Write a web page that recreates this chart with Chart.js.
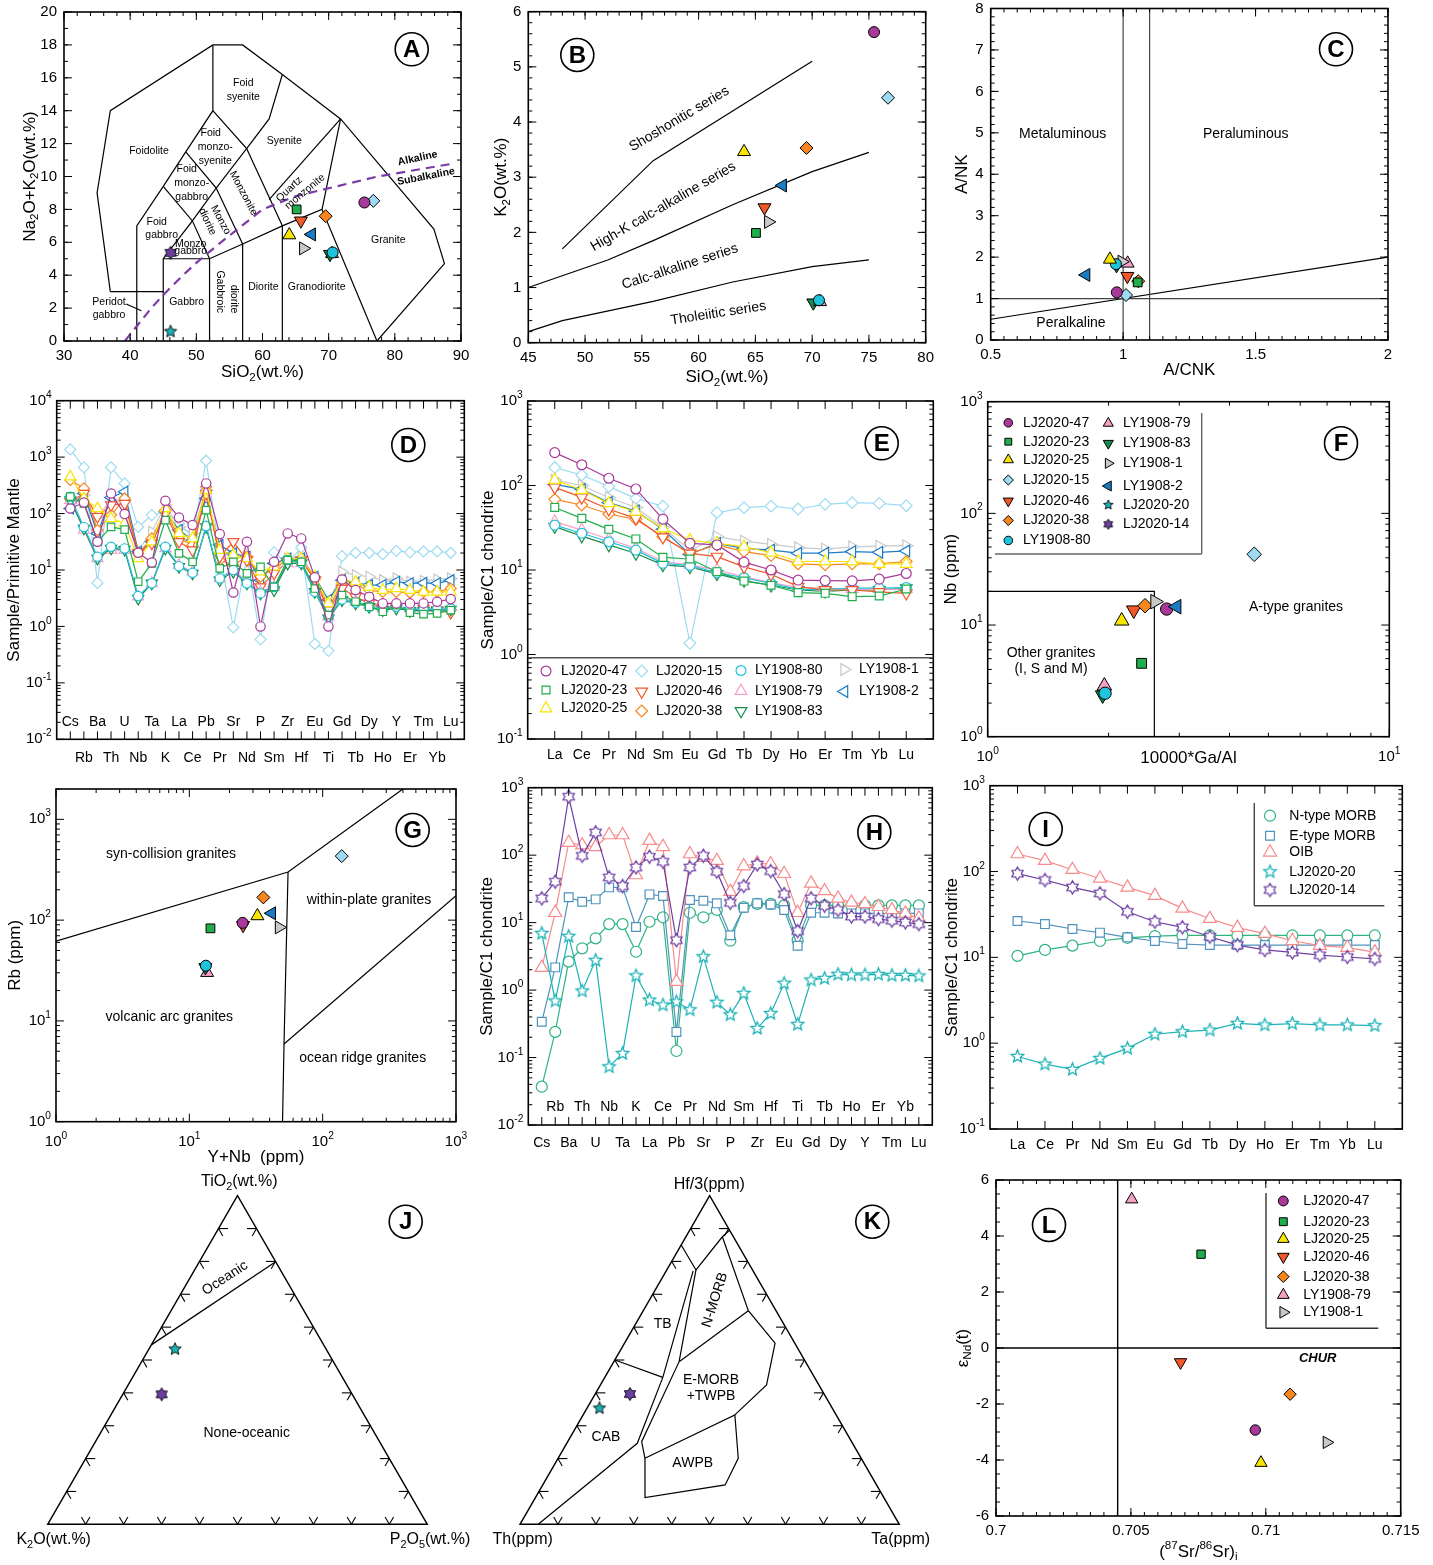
<!DOCTYPE html>
<html lang="en">
<head>
<meta charset="UTF-8">
<title>Geochemical diagrams A-L</title>
<script src="https://cdn.jsdelivr.net/npm/chart.js@4"></script>
<style>
  body { margin: 0; background: #fff; }
  #page { position: relative; width: 1433px; height: 1565px; overflow: hidden; }
  #page canvas { position: absolute; }
</style>
</head>
<body>
<div id="page"></div>
<script>
// ---------- element lists (tick labels) ----------
const spiderEls = ['Cs','Rb','Ba','Th','U','Nb','Ta','K','La','Ce','Pb','Pr','Sr','Nd','P','Sm','Zr','Hf','Eu','Ti','Gd','Tb','Dy','Ho','Y','Er','Tm','Yb','Lu'];
const reeEls = ['La','Ce','Pr','Nd','Sm','Eu','Gd','Tb','Dy','Ho','Er','Tm','Yb','Lu'];

// ---------- A: TAS ----------
const aSamples = ['LJ2020-47','LJ2020-15','LJ2020-23','LJ2020-46','LJ2020-38','LJ2020-25','LY1908-2','LY1908-1','LY1908-80','LY1908-83','LY1908-79','LJ2020-14','LJ2020-20'];
const aSiO2 = [75.4, 76.75, 65.16, 65.8, 69.55, 64.05, 67.43, 66.17, 70.6, 70.2, 70.5, 46.1, 46.1];
const aAlk = [8.42, 8.52, 8.0, 7.31, 7.59, 6.44, 6.48, 5.63, 5.38, 5.28, 5.3, 5.36, 0.57];
const tasLines = [
  [[37,3],[35,9],[37,14],[52.5,18],[57,18],[63,16.2],[71.8,13.5],[85.9,6.8],[87.5,4.7],[77.3,0]],
  [[37,3],[45,3]],
  [[41,0],[41,7],[45,9.4],[48.4,11.5],[52.5,14],[52.5,18]],
  [[45,0],[45,5],[49.4,7.3],[45,9.4]],
  [[48.4,11.5],[53,9.3],[49.4,7.3],[52,5]],
  [[45,5],[52,5],[57,5.9],[63,7],[69,8],[71.8,13.5]],
  [[52,0],[52,5]], [[57,0],[57,5.9]], [[63,0],[63,7]],
  [[53,9.3],[57.6,11.7],[52.5,14]],
  [[53,9.3],[57,5.9]],
  [[57.6,11.7],[63,7]],
  [[57.6,11.7],[61,13.5],[63,16.2]],
  [[61,8.6],[71.8,13.5]],
  [[69,8],[77.3,0]],
  [[39.4,2.25],[41.7,1.84]]
];
const tasAlkalineDivide = [[39.2,0],[40,0.4],[43.2,2],[45,2.8],[48,4],[50,4.75],[53.7,6],[55,6.4],[60,8],[65,8.8],[77.4,10],[88.3,10.75]];

// ---------- B: SiO2-K2O ----------
const bSamples = ['LJ2020-47','LJ2020-15','LJ2020-25','LJ2020-38','LY1908-2','LJ2020-46','LY1908-1','LJ2020-23','LY1908-80','LY1908-79','LY1908-83'];
const bSiO2 = [75.45, 76.68, 64.0, 69.5, 67.4, 65.8, 66.14, 65.05, 70.6, 70.7, 70.1];
const bK2O = [5.63, 4.44, 3.46, 3.53, 2.85, 2.45, 2.19, 1.99, 0.77, 0.74, 0.725];
const bSeriesLines = [
  [[48,1.7],[56,3.3],[70,5.1]],
  [[45,1.0],[52,1.5],[56,1.85],[63,2.5],[70,3.1],[75,3.45]],
  [[45,0.2],[48,0.4],[56,0.75],[63,1.1],[70,1.38],[75,1.5]]
];

// ---------- C: A/CNK - A/NK ----------
const cSamples = ['LJ2020-25','LY1908-80','LY1908-1','LY1908-79','LY1908-83','LY1908-2','LJ2020-46','LJ2020-23','LJ2020-38','LJ2020-47','LJ2020-15'];
const cAcnk = [0.950, 0.973, 0.995, 1.017, 0.975, 0.86, 1.016, 1.055, 1.057, 0.976, 1.011];
const cAnk = [1.945, 1.83, 1.89, 1.85, 1.80, 1.57, 1.54, 1.39, 1.42, 1.15, 1.085];
const cGreyLines = [[[1,0],[1,8]], [[1.1,0],[1.1,8]], [[0.5,1],[2,1]]];
const cDiagonal = [[0.5,0.5],[2,2]];

// ---------- D: primitive-mantle spidergram ----------
const pmLJ2020_47 = [123,157,31.7,227,98,20.2,13.6,169,85,62.5,342,43.3,4.0,31.7,1.0,14,44.5,36.3,7.4,1.0,6.8,4.4,3.36,2.56,2.56,2.56,2.56,2.74,3.05];
const pmLJ2020_23 = [199,151,31.7,58,52,6.2,13.1,76.6,19.7,14,115,10.7,14,8.7,11.4,5.0,15,14,4.7,1.59,3.6,2.74,2.23,1.82,2.39,1.75,1.65,1.7,1.95];
const pmLJ2020_25 = [449,185,123,82,67,16,31.7,123,44.5,36.3,260,22.5,18.4,16,9.3,11.4,16,16,7.6,2.56,6.6,6.2,5.0,4.4,4.7,4.4,4.1,4.1,4.1];
const pmLJ2020_15 = [1368,657,5.9,657,342,58,94,108,67,38.8,863,19.7,0.96,17.2,0.59,20.5,13.1,25,0.49,0.37,17.6,20.2,20.2,19.1,21.9,20.5,21.3,21.3,20.2];
const pmLJ2020_46 = [162,227,88,141,150,20.2,29.6,100,31.7,22.5,227,17.2,31.7,15,5.0,8.7,14,15,6.6,1.95,4.7,3.36,2.56,2.23,2.23,1.9,2.08,1.95,1.75];
const pmLJ2020_38 = [392,279,51,94,185,19.7,36.3,115,36.3,27.6,298,15,12.2,17.2,7.6,10.7,15,15,7.1,2.08,5.9,5.4,4.4,4.1,4.1,3.95,4.1,4.1,4.7];
const pmLY1908_80 = [199,58,17.2,25.8,24.1,3.45,5.8,25.8,11.7,8.9,60,7.1,10,5.8,3.85,5.0,15,13.4,4.1,1.48,3.0,2.63,2.23,2.0,2.23,2.0,2.0,2.0,2.08];
const pmLY1908_79 = [173,51,16,22.5,22.5,3.36,5.8,24.1,12.2,9.3,58,7.1,10,6.2,4.1,5.0,13.1,13.1,4.4,1.48,3.14,2.74,2.39,2.08,2.29,2.08,2.08,2.08,2.17];
const pmLY1908_83 = [173,54.5,16,24.1,23,3.13,5.8,24.1,11.4,8.7,58,6.6,9.3,5.8,3.85,4.4,13.1,13.1,4.1,1.39,2.93,2.56,2.23,1.95,2.08,1.9,1.9,1.9,2.0];
const pmLY1908_1 = [151,212,88,173,173,22.5,47.6,141,58,44.5,260,19.7,17.2,17.2,7.6,12.2,16,17.2,7.6,2.56,9.3,8.1,7.6,6.6,7.1,6.2,6.4,6.8,7.1];
const pmLY1908_2 = [123,227,44.5,193,243,21,31.7,108,51,33.9,185,27.6,19.7,17.2,6.6,13.1,16,16,7.6,2.93,6.6,5.9,5.4,5.4,6.2,5.8,5.9,5.8,6.6];

// ---------- E: chondrite REE ----------
const reeLJ2020_47 = [245,176,122,91,40,20.7,19.8,12.4,10,7.6,7.5,7.45,7.8,9.1];
const reeLJ2020_23 = [55,40.8,30.3,23.3,14.1,13.5,9.55,7.4,6.6,5.4,5.3,4.83,4.92,5.96];
const reeLJ2020_25 = [116,88.5,61.5,49,31,22.6,20.7,18.9,16,12.6,12.6,12.6,11.8,11.8];
const reeLJ2020_15 = [163,133,97,70.5,57,1.36,47.7,54.7,57,52.7,59.8,62.7,61.5,57.7];
const reeLJ2020_46 = [95,72.4,52.3,40.8,24.4,15.7,14.4,10.9,8.9,6.35,5.8,5.8,5.5,5.3];
const reeLJ2020_38 = [68.6,58.8,46,39.8,24.8,15.7,19.8,16.5,14.8,11.8,11.5,11.8,11.8,12.6];
const reeLY1908_80 = [34,27.2,21.6,17.2,12,11.3,9.3,8.1,6.95,5.9,5.9,6.1,6.1,6.2];
const reeLY1908_79 = [37.3,29.7,23.1,18,12.6,11.5,10,8.3,7.1,6.2,6.1,5.95,5.95,5.95];
const reeLY1908_83 = [32.6,25.2,19.8,15.7,11.5,10.9,9.0,7.5,6.6,5.8,5.6,5.8,5.8,6.1];
const reeLY1908_1 = [116,100,72,55,32,17,24.8,22,20.1,18.4,17.7,18.8,19.2,19.4];
const reeLY1908_2 = [103,90,63,50,30.3,15.3,20.7,18,17.2,15.8,15.8,16.5,16.2,16.8];

// ---------- F: Ga/Al - Nb ----------
const fSamples = ['LJ2020-15','LY1908-2','LJ2020-47','LY1908-1','LJ2020-38','LJ2020-46','LJ2020-25','LJ2020-23','LY1908-80','LY1908-79','LY1908-83'];
const fGaAl = [4.61, 2.955, 2.79, 2.61, 2.465, 2.31, 2.156, 2.417, 1.96, 1.952, 1.933];
const fNb = [43, 14.6, 13.9, 16.2, 14.9, 13.6, 10.9, 4.54, 2.45, 2.85, 2.36];
const fBoundary = [[1,20],[2.6,20],[2.6,1]];

// ---------- G: Y+Nb - Rb ----------
const gSamples = ['LJ2020-15','LJ2020-38','LY1908-2','LJ2020-25','LJ2020-47','LJ2020-46','LY1908-1','LJ2020-23','LY1908-80','LY1908-83','LY1908-79'];
const gYNb = [139, 35.9, 41.5, 32.4, 25.1, 25.3, 47.1, 14.4, 13.3, 13.2, 13.6];
const gRb = [432, 168, 117, 110, 94, 89, 84.8, 82.9, 35.3, 34, 30.1];
const gLines = [
  [[1,62],[55,300],[400,2000]],
  [[55,300],[51.3,5.9],[50,1]],
  [[51.3,5.9],[1000,175]]
];

// ---------- H: spidergram, references + mafic samples ----------
const hOIB = [2.15,14.0,153,141,133,199,199,50.8,164,133,1.33,104,91.8,82.8,28.8,69,75.8,74,53,14,38.2,29.5,22.9,19.9,18.9,17.2,15.4,13.7,11.6];
const hEMORB = [0.34,2.17,23.7,20.4,22.1,33.3,33.3,8.6,26.2,24.8,0.24,21.6,21.1,19.3,6.5,16.6,19.3,18.6,15.4,4.55,14,14,13.7,13.7,13.7,13.7,13.7,13.7,13.7];
const hNMORB = [0.037,0.24,2.64,4.16,5.85,9.5,9.5,3.7,10.3,12.0,0.125,14,12,15.4,5.4,17,19,19,18,5.5,18,18,18,18,18,18,18,18,18];
const hLJ2020_14 = [22.9,40.5,736,98,218,46.9,34.9,65.9,94.9,80,5.5,65.9,98,56.9,19.7,34.9,73,58,26.5,7.5,22.9,17.8,15.4,12.3,12.3,11.3,10.7,10.1,9.5];
const hLJ2020_20 = [6.93,0.69,6.26,0.97,2.76,0.073,0.115,1.63,0.71,0.60,0.67,0.51,3.13,0.66,0.43,0.895,0.27,0.45,1.26,0.31,1.41,1.49,1.71,1.68,1.68,1.71,1.65,1.65,1.62];

// ---------- I: REE, references + mafic samples ----------
const iNMORB = [10.4,12.2,13.7,15.5,16.9,17.7,18,18,18,18,18,18,18,18];
const iEMORB = [26.5,24.4,21.4,19.4,17.1,15.5,14.3,13.9,13.9,13.9,13.9,13.9,13.9,13.9];
const iOIB = [160,134,105,83,65.4,52.3,37.2,28.2,22.2,18.9,15.6,13.7,13.0,11.5];
const iLJ2020_14 = [94.4,79.6,65.4,55.7,34,26,22.4,17.4,13.9,12.2,11.4,10.6,10.1,9.6];
const iLJ2020_20 = [0.70,0.57,0.495,0.665,0.87,1.27,1.36,1.42,1.70,1.63,1.69,1.63,1.63,1.60];

// ---------- J: TiO2-K2O-P2O5 ----------
const jSamples = ['LJ2020-20','LJ2020-14'];
const jTiO2 = [0.5325, 0.3955];
const jK2O = [0.398, 0.502];
const jP2O5 = [0.069, 0.1025];
const jOceanicLine = [[0.546,0.454,0],[0.799,0,0.201]];

// ---------- K: Hf/3-Th-Ta ----------
const kSamples = ['LJ2020-20','LJ2020-14'];
const kHf3 = [0.353, 0.3966];
const kTh = [0.614, 0.512];
const kTa = [0.033, 0.0917];
const kFieldLines = [
  [[0.85,0.15,0],[0.774,0.149,0.077],[0.875,0.029,0.096],[0.895,0,0.105]],
  [[0.875,0.029,0.096],[0.650,0.073,0.277],[0.551,0.052,0.397],[0.424,0.138,0.438],[0.333,0.267,0.400]],
  [[0.650,0.073,0.277],[0.495,0.333,0.172]],
  [[0.774,0.149,0.077],[0.495,0.333,0.172],[0.2515,0.5535,0.195],[0.2008,0.5702,0.229],[0.0811,0.6299,0.289],[0.1197,0.3993,0.481],[0.2008,0.3242,0.475],[0.333,0.267,0.400],[0.2008,0.5702,0.229]],
  [[0.771,0.158,0.071],[0.447,0.400,0.153],[0.2465,0.5675,0.186],[0,0.952,0.048]],
  [[0.5,0.5,0],[0.447,0.400,0.153]]
];

// ---------- L: Sr-Nd isotopes ----------
const lSamples = ['LY1908-79','LJ2020-23','LJ2020-46','LJ2020-38','LJ2020-47','LY1908-1','LJ2020-25'];
const lSr = [0.70503, 0.7076, 0.70684, 0.7109, 0.70961, 0.71226, 0.70982];
const lNd = [5.31, 3.35, -0.51, -1.65, -2.93, -3.37, -4.1];
const lBulkEarthSr = [[0.70451,-6],[0.70451,6]];
const lChur = [[0.7,0],[0.715,0]];

// ---------- symbols ----------
const sampleStyle = {
  'LJ2020-47': ['circle', 0, '#a8399a'],
  'LJ2020-23': ['rect', 0, '#1fae4b'],
  'LJ2020-25': ['triangle', 0, '#f8e500'],
  'LJ2020-15': ['rectRot', 0, '#9edbf2'],
  'LJ2020-46': ['triangle', 180, '#f2582a'],
  'LJ2020-38': ['rectRot', 0, '#f7861f'],
  'LY1908-80': ['circle', 0, '#1ec3dc'],
  'LY1908-79': ['triangle', 0, '#f6a0c6'],
  'LY1908-83': ['triangle', 180, '#188c4c'],
  'LY1908-1': ['triangle', 90, '#c9c9c9'],
  'LY1908-2': ['triangle', -90, '#1b7cc6'],
  'LJ2020-20': ['star5', 0, '#1bb2b6'],
  'LJ2020-14': ['star6', 0, '#6d3fa3'],
  'N-type MORB': ['circle', 0, '#2db47f'],
  'E-type MORB': ['rect', 0, '#4f93bd'],
  'OIB': ['triangle', 0, '#f78b8b']
};

const page = document.getElementById('page');
const FONT = '"Liberation Sans", Arial, Helvetica, sans-serif';
const R3 = Math.sqrt(3) / 2;

function starCanvas(n, rOut, fill, stroke, lw) {
  const rIn = n === 5 ? rOut * 0.45 : rOut * 0.6;
  const s = Math.ceil(rOut * 2 + lw + 2);
  const c = document.createElement('canvas');
  c.width = s; c.height = s;
  const g = c.getContext('2d');
  g.beginPath();
  for (let i = 0; i < n * 2; i++) {
    const r = i % 2 ? rIn : rOut;
    const a = -Math.PI / 2 + i * Math.PI / n;
    g.lineTo(s / 2 + r * Math.cos(a), s / 2 + r * Math.sin(a));
  }
  g.closePath();
  g.fillStyle = fill; g.fill();
  g.lineWidth = lw; g.strokeStyle = stroke; g.stroke();
  return c;
}

function marker(name, k, hollow) {
  const [shape, rot, col] = sampleStyle[name];
  if (shape === 'star5' || shape === 'star6') {
    const n = shape === 'star5' ? 5 : 6;
    const img = hollow ? starCanvas(n, 6.5 * k, '#fff', col, 1.3) : starCanvas(n, 6.5 * k, col, '#000', 0.9);
    return { pointStyle: img, pointRotation: 0, pointRadius: 6 * k, col };
  }
  const base = { circle: 5.5, rect: 6.2, rectRot: 6.5, triangle: 7.5 }[shape];
  return { pointStyle: shape, pointRotation: rot, pointRadius: base * k, col };
}

function dot(name, x, y, k) {
  const m = marker(name, k, false);
  return { label: name, data: [{ x, y }], pointStyle: m.pointStyle, pointRotation: m.pointRotation,
    pointRadius: m.pointRadius, pointBackgroundColor: m.col, pointBorderColor: '#000', pointBorderWidth: 1 };
}

function series(name, values, k) {
  const m = marker(name, k, true);
  return { label: name, data: values.map((v, i) => ({ x: i, y: v })), showLine: true,
    borderColor: m.col, borderWidth: 1.2, pointStyle: m.pointStyle, pointRotation: m.pointRotation,
    pointRadius: m.pointRadius, pointBackgroundColor: '#fff', pointBorderColor: m.col, pointBorderWidth: 1.2 };
}

function edge(pts, opts) {
  return Object.assign({ data: pts.map(p => ({ x: p[0], y: p[1] })), showLine: true, pointRadius: 0,
    borderColor: '#000', borderWidth: 1.2 }, opts || {});
}

function tern(c) {
  const s = c[0] + c[1] + c[2];
  return [(c[2] + c[0] / 2) / s, c[0] * R3 / s];
}

// ---------- axis helpers ----------
function steps(min, max, step) {
  const n = Math.round((max - min) / step), out = [];
  for (let i = 0; i <= n; i++) out.push(+(min + i * step).toFixed(8));
  return out;
}
function linAxis(min, max, major, minor, extra) {
  const majors = steps(min, max, major);
  return Object.assign({ type: 'linear', min, max, major: majors, minor: steps(min, max, minor),
    labels: majors.map(v => [v, String(v)]), labelDy: 15, labelDx: 7 }, extra || {});
}
function logAxis(min, max, extra) {
  const major = [], minor = [];
  for (let e = Math.floor(Math.log10(min)); e <= Math.ceil(Math.log10(max)); e++) {
    for (let m = 1; m <= 9; m++) {
      const v = m * Math.pow(10, e);
      if (v < min * 0.999 || v > max * 1.001) continue;
      (m === 1 ? major : minor).push(v);
    }
  }
  return Object.assign({ type: 'logarithmic', min, max, major, minor,
    labels: major.map(v => [v, '10^{' + Math.round(Math.log10(v)) + '}']), labelDy: 20, labelDx: 5 }, extra || {});
}
function catAxis(names, outerParity, extra) {
  const all = names.map((n, i) => [i, n]);
  return Object.assign({ type: 'linear', min: -1, max: names.length, major: names.map((n, i) => i), minor: [],
    labels: outerParity === null ? all : all.filter(a => a[0] % 2 === outerParity),
    inner: outerParity === null ? [] : all.filter(a => a[0] % 2 !== outerParity), labelSize: 14 }, extra || {});
}

// ---------- text ----------
function parseRich(s) {
  const out = [];
  let buf = '', i = 0;
  while (i < s.length) {
    const ch = s[i];
    if ((ch === '_' || ch === '^') && i + 1 < s.length) {
      if (buf) { out.push({ t: buf, m: 0 }); buf = ''; }
      let t;
      if (s[i + 1] === '{') { const j = s.indexOf('}', i + 2); t = s.slice(i + 2, j); i = j + 1; }
      else { t = s[i + 1]; i += 2; }
      out.push({ t, m: ch === '_' ? -1 : 1 });
    } else { buf += ch; i++; }
  }
  if (buf) out.push({ t: buf, m: 0 });
  return out;
}
function drawRich(ctx, s, x, y, size, align, rot, style) {
  const segs = parseRich(s);
  const font = sz => ((style || '') + ' ' + sz.toFixed(1) + 'px ' + FONT).trim();
  ctx.save();
  ctx.translate(x, y);
  if (rot) ctx.rotate(rot);
  ctx.textBaseline = 'middle';
  ctx.textAlign = 'left';
  let w = 0;
  segs.forEach(g => { ctx.font = font(g.m ? size * 0.68 : size); g.w = ctx.measureText(g.t).width; w += g.w; });
  let cx = align === 'right' ? -w : align === 'left' ? 0 : -w / 2;
  segs.forEach(g => {
    ctx.font = font(g.m ? size * 0.68 : size);
    ctx.fillText(g.t, cx, g.m === -1 ? size * 0.3 : g.m === 1 ? -size * 0.38 : 0);
    cx += g.w;
  });
  ctx.restore();
}

// ---------- frame plugin ----------
function line(ctx, x1, y1, x2, y2) {
  ctx.beginPath(); ctx.moveTo(x1, y1); ctx.lineTo(x2, y2); ctx.stroke();
}

function drawAxes(ctx, a, X, Y, p) {
  ctx.strokeStyle = '#000';
  ctx.lineWidth = 1;
  const tickX = (vals, len) => vals.forEach(v => {
    const q = X.getPixelForValue(v);
    line(ctx, q, a.bottom, q, a.bottom - len);
    line(ctx, q, a.top, q, a.top + len);
  });
  const tickY = (vals, len) => vals.forEach(v => {
    const q = Y.getPixelForValue(v);
    line(ctx, a.left, q, a.left + len, q);
    line(ctx, a.right, q, a.right - len, q);
  });
  tickX(p.x.minor, 4); tickX(p.x.major, 8);
  tickY(p.y.minor, 4); tickY(p.y.major, 8);
  ctx.lineWidth = 1.6;
  ctx.strokeRect(a.left, a.top, a.right - a.left, a.bottom - a.top);
  ctx.fillStyle = '#000';
  const xs = p.x.labelSize || 15, ys = p.y.labelSize || 15;
  p.x.labels.forEach(([v, s]) => drawRich(ctx, s, X.getPixelForValue(v), a.bottom + p.x.labelDy, xs, 'center'));
  (p.x.inner || []).forEach(([v, s]) => drawRich(ctx, s, X.getPixelForValue(v), a.bottom - p.x.innerDy, xs, 'center'));
  p.y.labels.forEach(([v, s]) => drawRich(ctx, s, a.left - p.y.labelDx, Y.getPixelForValue(v), ys, 'right'));
  if (p.x.title) drawRich(ctx, p.x.title, (a.left + a.right) / 2, a.bottom + p.x.titleDy, 17, 'center');
  if (p.y.title) drawRich(ctx, p.y.title, a.left - p.y.titleDx, (a.top + a.bottom) / 2, 17, 'center', -Math.PI / 2);
}

function drawTernary(ctx, X, Y) {
  const P = c => { const q = tern(c); return [X.getPixelForValue(q[0]), Y.getPixelForValue(q[1])]; };
  const top = P([1, 0, 0]), left = P([0, 1, 0]), right = P([0, 0, 1]);
  ctx.strokeStyle = '#000';
  ctx.lineWidth = 1.4;
  ctx.beginPath(); ctx.moveTo(top[0], top[1]); ctx.lineTo(left[0], left[1]); ctx.lineTo(right[0], right[1]); ctx.closePath(); ctx.stroke();
  ctx.lineWidth = 1.1;
  const L = 9.5, D = 8.5;
  for (let i = 1; i < 10; i++) {
    const f = i / 10;
    let q = P([0, 1 - f, f]);
    line(ctx, q[0], q[1], q[0] - D * 0.5, q[1] - D * R3);
    line(ctx, q[0], q[1], q[0] + D * 0.5, q[1] - D * R3);
    q = P([f, 1 - f, 0]);
    line(ctx, q[0], q[1], q[0] + L, q[1]);
    line(ctx, q[0], q[1], q[0] + D * 0.5, q[1] + D * R3);
    q = P([f, 0, 1 - f]);
    line(ctx, q[0], q[1], q[0] - L, q[1]);
    line(ctx, q[0], q[1], q[0] - D * 0.5, q[1] + D * R3);
  }
}

function drawLegend(ctx, p) {
  const L = p.legend, ox = p.box[0], oy = p.box[1];
  ctx.strokeStyle = L.lineColor; ctx.lineWidth = 1.4;
  L.lines.forEach(([x1, y1, x2, y2]) => line(ctx, x1 - ox, y1 - oy, x2 - ox, y2 - oy));
  L.items.forEach(([name, sx, tx, y]) => {
    const m = marker(name, L.k, L.hollow);
    ctx.save();
    ctx.fillStyle = L.hollow ? '#fff' : m.col;
    ctx.strokeStyle = L.hollow ? m.col : '#000';
    ctx.lineWidth = L.hollow ? 1.2 : 1;
    if (Chart.helpers && Chart.helpers.drawPoint) {
      Chart.helpers.drawPoint(ctx, { pointStyle: m.pointStyle, rotation: m.pointRotation, radius: m.pointRadius, borderWidth: ctx.lineWidth }, sx - ox, y - oy);
    }
    ctx.restore();
    ctx.fillStyle = '#000';
    drawRich(ctx, name, tx - ox, y - oy, 14, 'left');
  });
}

function drawFrame(chart, p) {
  const ctx = chart.ctx, a = chart.chartArea, X = chart.scales.x, Y = chart.scales.y;
  const ox = p.box[0], oy = p.box[1];
  ctx.save();
  if (p.ternary) drawTernary(ctx, X, Y);
  else drawAxes(ctx, a, X, Y, p);
  (p.texts || []).forEach(([t, x, y, size, rot, style]) => {
    ctx.fillStyle = '#000';
    drawRich(ctx, t, x - ox, y - oy, size || 14, 'center', (rot || 0) * Math.PI / 180, style);
  });
  if (p.legend) drawLegend(ctx, p);
  const lx = p.letter[0] - ox, ly = p.letter[1] - oy;
  ctx.strokeStyle = '#000'; ctx.lineWidth = 1.6;
  ctx.beginPath(); ctx.arc(lx, ly, 16.5, 0, Math.PI * 2); ctx.stroke();
  ctx.fillStyle = '#000';
  drawRich(ctx, p.id, lx, ly + 1, 24, 'center', 0, 'bold');
  ctx.restore();
}

function panel(p) {
  const [bx, by, bw, bh] = p.box;
  const [l, t, r, b] = p.plot;
  const cv = document.createElement('canvas');
  cv.width = bw; cv.height = bh;
  cv.style.left = bx + 'px'; cv.style.top = by + 'px';
  page.appendChild(cv);
  new Chart(cv, {
    type: 'scatter',
    data: { datasets: p.datasets },
    options: {
      responsive: false, animation: false, events: [], devicePixelRatio: 1,
      layout: { padding: { left: l - bx, top: t - by, right: bx + bw - r, bottom: by + bh - b } },
      plugins: { legend: { display: false }, tooltip: { enabled: false }, colors: { enabled: false } },
      scales: {
        x: { type: p.x.type, min: p.x.min, max: p.x.max, display: false },
        y: { type: p.y.type, min: p.y.min, max: p.y.max, display: false }
      }
    },
    plugins: [{ id: 'frame' + p.id, afterDatasetsDraw: c => drawFrame(c, p) }]
  });
}

const pmSeries = [['LJ2020-47', pmLJ2020_47], ['LJ2020-23', pmLJ2020_23], ['LY1908-80', pmLY1908_80], ['LY1908-83', pmLY1908_83],
  ['LY1908-79', pmLY1908_79], ['LJ2020-25', pmLJ2020_25], ['LJ2020-46', pmLJ2020_46], ['LJ2020-38', pmLJ2020_38],
  ['LY1908-2', pmLY1908_2], ['LY1908-1', pmLY1908_1], ['LJ2020-15', pmLJ2020_15]];
const reeSeries = [['LJ2020-47', reeLJ2020_47], ['LJ2020-23', reeLJ2020_23], ['LJ2020-25', reeLJ2020_25], ['LJ2020-46', reeLJ2020_46],
  ['LJ2020-38', reeLJ2020_38], ['LY1908-80', reeLY1908_80], ['LY1908-79', reeLY1908_79], ['LY1908-83', reeLY1908_83],
  ['LY1908-2', reeLY1908_2], ['LY1908-1', reeLY1908_1], ['LJ2020-15', reeLJ2020_15]];
const hSeries = [['LJ2020-14', hLJ2020_14], ['LJ2020-20', hLJ2020_20], ['OIB', hOIB], ['E-type MORB', hEMORB], ['N-type MORB', hNMORB]];
const iSeries = [['LJ2020-14', iLJ2020_14], ['LJ2020-20', iLJ2020_20], ['OIB', iOIB], ['E-type MORB', iEMORB], ['N-type MORB', iNMORB]];

const panels = [
  { id: 'A', box: [0, 0, 480, 392], plot: [64, 12, 461, 341], letter: [411.7, 49.3],
    x: linAxis(30, 90, 10, 2, { title: 'SiO_2(wt.%)', titleDy: 31.7 }),
    y: linAxis(0, 20, 2, 1, { title: 'Na_2O+K_2O(wt.%)', titleDx: 34 }),
    datasets: [...aSamples.map((s, i) => dot(s, aSiO2[i], aAlk[i], 1)),
      edge(tasAlkalineDivide, { borderDash: [9, 6], borderColor: '#7b3aa6', borderWidth: 2.2 }),
      ...tasLines.map(l => edge(l))],
    texts: [['Foid', 243.3, 82.7, 10.5], ['syenite', 243.3, 96.7, 10.5], ['Foidolite', 149, 150.7, 10.5],
      ['Foid', 210.7, 132.7, 10.5], ['monzo-', 215.3, 146.7, 10.5], ['syenite', 215.3, 160.7, 10.5],
      ['Syenite', 284.3, 140.7, 10.5], ['Foid', 186.7, 169, 10.5], ['monzo-', 191.7, 183, 10.5], ['gabbro', 191.7, 196.7, 10.5],
      ['Monzonite', 243.3, 193.3, 10.5, 62], ['Quartz', 289.3, 189.3, 10.5, -43], ['monzonite', 305, 191.7, 10.5, -40],
      ['Foid', 156.7, 221.7, 10.5], ['gabbro', 161.7, 235, 10.5], ['Monzo', 220.7, 220, 10.5, 62], ['diorite', 207.3, 221.7, 10.5, 65],
      ['Monzo', 190.7, 244, 10.5], ['gabbro', 190.7, 251.3, 10.5], ['Peridot', 109, 302.3, 10.5], ['gabbro', 109, 315.3, 10.5],
      ['Gabbro', 186.7, 302.3, 10.5], ['Gabbroic', 220, 291.7, 10.5, 90], ['diorite', 234.3, 299, 10.5, 90],
      ['Diorite', 263.3, 287.3, 10.5], ['Granodiorite', 316.7, 287.3, 10.5], ['Granite', 388.3, 240, 10.5],
      ['Alkaline', 417.7, 158.3, 10.5, -12, 'bold'], ['Subalkaline', 426, 176.7, 10.5, -11, 'bold']] },

  { id: 'B', box: [468, 0, 480, 392], plot: [528.3, 11.7, 925.7, 342.7], letter: [577.3, 55],
    x: linAxis(45, 80, 5, 1, { title: 'SiO_2(wt.%)', titleDy: 35 }),
    y: linAxis(0, 6, 1, 0.2, { title: 'K_2O(wt.%)', titleDx: 27 }),
    datasets: [...bSamples.map((s, i) => dot(s, bSiO2[i], bK2O[i], 1)), ...bSeriesLines.map(l => edge(l))],
    texts: [['Shoshonitic series', 679.3, 119, 14, -31], ['High-K calc-alkaline series', 663.3, 206.7, 14, -30],
      ['Calc-alkaline series', 680, 266.7, 14, -18], ['Tholeiitic series', 718.3, 313.3, 14, -8.8]] },

  { id: 'C', box: [936, 0, 497, 392], plot: [990.7, 8.3, 1388, 340], letter: [1336, 49.3],
    x: linAxis(0.5, 2, 0.5, 0.05, { title: 'A/CNK', titleDy: 30.7 }),
    y: linAxis(0, 8, 1, 0.2, { title: 'A/NK', titleDx: 28.7 }),
    datasets: [...cSamples.map((s, i) => dot(s, cAcnk[i], cAnk[i], 1)),
      ...cGreyLines.map(l => edge(l, { borderColor: '#444' })), edge(cDiagonal)],
    texts: [['Metaluminous', 1062.7, 134, 14], ['Peraluminous', 1245.7, 134, 14], ['Peralkaline', 1071, 322.7, 14]] },

  { id: 'D', box: [0, 385, 480, 395], plot: [56.7, 400.7, 464.3, 739.3], letter: [408.3, 445],
    x: catAxis(spiderEls, 1, { labelDy: 19, innerDy: 17.6 }),
    y: logAxis(0.01, 10000, { title: 'Sample/Primitive Mantle', titleDx: 42 }),
    datasets: pmSeries.map(([n, v]) => series(n, v, 0.85)) },

  { id: 'E', box: [468, 385, 480, 395], plot: [527.7, 401, 933.3, 739], letter: [881.7, 443.3],
    x: catAxis(reeEls, null, { labelDy: 16 }),
    y: logAxis(0.1, 1000, { title: 'Sample/C1 chondrite', titleDx: 39 }),
    datasets: reeSeries.map(([n, v]) => series(n, v, 0.9)),
    legend: { hollow: true, k: 0.9, lineColor: '#555', lines: [[527.7, 657.7, 933.3, 657.7]],
      items: [['LJ2020-47', 546, 561, 671], ['LJ2020-23', 546, 561, 690], ['LJ2020-25', 546, 561, 708.5],
        ['LJ2020-15', 641.7, 656, 671], ['LJ2020-46', 641.7, 656, 691.5], ['LJ2020-38', 641.7, 656, 711],
        ['LY1908-80', 741, 755, 670.5], ['LY1908-79', 741, 755, 691], ['LY1908-83', 741, 755, 711],
        ['LY1908-1', 844.3, 859, 669.5], ['LY1908-2', 844.3, 859, 691.5]] } },

  { id: 'F', box: [936, 385, 497, 395], plot: [987.7, 401.7, 1389.3, 736.7], letter: [1341, 443.3],
    x: logAxis(1, 10, { title: '10000*Ga/Al', titleDy: 22 }),
    y: logAxis(1, 1000, { title: 'Nb (ppm)', titleDx: 36 }),
    datasets: [...fSamples.map((s, i) => dot(s, fGaAl[i], fNb[i], 1.12)), edge(fBoundary)],
    texts: [['A-type granites', 1296, 606.7, 14], ['Other granites', 1051, 652.7, 14], ['(I, S and M)', 1051, 669.3, 14]],
    legend: { hollow: false, k: 0.78, lineColor: '#666', lines: [[1201.7, 413, 1201.7, 554], [995, 554, 1201.7, 554]],
      items: [['LJ2020-47', 1008.3, 1023, 422.8], ['LJ2020-23', 1008.3, 1023, 441.7], ['LJ2020-25', 1008.3, 1023, 459.8],
        ['LJ2020-15', 1008.3, 1023, 480], ['LJ2020-46', 1008.3, 1023, 501], ['LJ2020-38', 1008.3, 1023, 520.5],
        ['LY1908-80', 1008.3, 1023, 540.5],
        ['LY1908-79', 1108.3, 1123, 423.3], ['LY1908-83', 1108.3, 1123, 443.3], ['LY1908-1', 1108.3, 1123, 463.3],
        ['LY1908-2', 1108.3, 1123, 486], ['LJ2020-20', 1108.3, 1123, 505], ['LJ2020-14', 1108.3, 1123, 524.3]] } },

  { id: 'G', box: [0, 770, 480, 400], plot: [56, 789, 456, 1121.7], letter: [412.7, 830],
    x: logAxis(1, 1000, { title: 'Y+Nb  (ppm)', titleDy: 36 }),
    y: logAxis(1, 2000, { title: 'Rb (ppm)', titleDx: 41 }),
    datasets: [...gSamples.map((s, i) => dot(s, gYNb[i], gRb[i], 1)), ...gLines.map(l => edge(l))],
    texts: [['syn-collision granites', 171, 854, 14], ['within-plate granites', 369, 900, 14],
      ['volcanic arc granites', 169.3, 1016.7, 14], ['ocean ridge granites', 362.7, 1057.7, 14]] },

  { id: 'H', box: [468, 770, 480, 400], plot: [528.3, 787.7, 932.3, 1125], letter: [874.3, 832.3],
    x: catAxis(spiderEls, 0, { labelDy: 18.3, innerDy: 18.3 }),
    y: logAxis(0.01, 1000, { title: 'Sample/C1 chondrite', titleDx: 41 }),
    datasets: hSeries.map(([n, v]) => series(n, v, 1.0)) },

  { id: 'I', box: [936, 770, 497, 400], plot: [990, 785.7, 1402.3, 1129], letter: [1045.7, 829],
    x: catAxis(reeEls, null, { labelDy: 16 }),
    y: logAxis(0.1, 1000, { title: 'Sample/C1 chondrite', titleDx: 38 }),
    datasets: iSeries.map(([n, v]) => series(n, v, 1.0)),
    legend: { hollow: true, k: 1.0, lineColor: '#444', lines: [[1254.3, 803, 1254.3, 905.7], [1254.3, 905.7, 1384.3, 905.7]],
      items: [['N-type MORB', 1270, 1289.3, 815.7], ['E-type MORB', 1270, 1289.3, 835.7], ['OIB', 1270, 1289.3, 852.3],
        ['LJ2020-20', 1270, 1289.3, 871.7], ['LJ2020-14', 1270, 1289.3, 890]] } },

  { id: 'J', ternary: true, box: [0, 1160, 480, 405], plot: [47.7, 1195.7, 427.3, 1524.3], letter: [405.7, 1221.7],
    x: { type: 'linear', min: 0, max: 1 }, y: { type: 'linear', min: 0, max: R3 },
    datasets: [...jSamples.map((s, i) => { const q = tern([jTiO2[i], jK2O[i], jP2O5[i]]); return dot(s, q[0], q[1], 1); }),
      edge(jOceanicLine.map(tern), { borderWidth: 1.3 })],
    texts: [['Oceanic', 225, 1278.3, 14, -33], ['None-oceanic', 246.7, 1433.3, 14],
      ['TiO_2(wt.%)', 239.3, 1181.7, 16], ['K_2O(wt.%)', 53.7, 1540, 16], ['P_2O_5(wt.%)', 430, 1540, 16]] },

  { id: 'K', ternary: true, box: [468, 1160, 480, 405], plot: [520, 1195.7, 899.3, 1524.3], letter: [872.3, 1221.7],
    x: { type: 'linear', min: 0, max: 1 }, y: { type: 'linear', min: 0, max: R3 },
    datasets: [...kSamples.map((s, i) => { const q = tern([kHf3[i], kTh[i], kTa[i]]); return dot(s, q[0], q[1], 1); }),
      ...kFieldLines.map(l => edge(l.map(tern)))],
    texts: [['TB', 662.7, 1324, 14], ['N-MORB', 715, 1300, 14, -72], ['E-MORB', 711, 1380, 14], ['+TWPB', 711, 1396, 14],
      ['CAB', 606, 1436.7, 14], ['AWPB', 692.7, 1463.3, 14],
      ['Hf/3(ppm)', 709.3, 1184.3, 16], ['Th(ppm)', 522.7, 1540, 16], ['Ta(ppm)', 900.7, 1540, 16]] },

  { id: 'L', box: [936, 1160, 497, 405], plot: [996, 1180, 1400.7, 1516], letter: [1049, 1225],
    x: linAxis(0.7, 0.715, 0.005, 0.0005, { title: '(^{87}Sr/^{86}Sr)_i', titleDy: 36 }),
    y: linAxis(-6, 6, 2, 0.5, { title: 'ε_{Nd}(t)', titleDx: 33 }),
    datasets: [...lSamples.map((s, i) => dot(s, lSr[i], lNd[i], 0.95)),
      edge(lBulkEarthSr, { borderWidth: 1.4 }), edge(lChur, { borderWidth: 1.6 })],
    texts: [['CHUR', 1317.7, 1358.3, 13, 0, 'italic bold']],
    legend: { hollow: false, k: 0.9, lineColor: '#333', lines: [[1266, 1193, 1266, 1328.3], [1266, 1328.3, 1378.3, 1328.3]],
      items: [['LJ2020-47', 1283.3, 1303.3, 1201], ['LJ2020-23', 1283.3, 1303.3, 1221.7], ['LJ2020-25', 1283.3, 1303.3, 1239],
        ['LJ2020-46', 1283.3, 1303.3, 1256.7], ['LJ2020-38', 1283.3, 1303.3, 1276.7], ['LY1908-79', 1283.3, 1303.3, 1295],
        ['LY1908-1', 1283.3, 1303.3, 1312.3]] } }
];

panels.forEach(panel);
</script>
</body>
</html>
